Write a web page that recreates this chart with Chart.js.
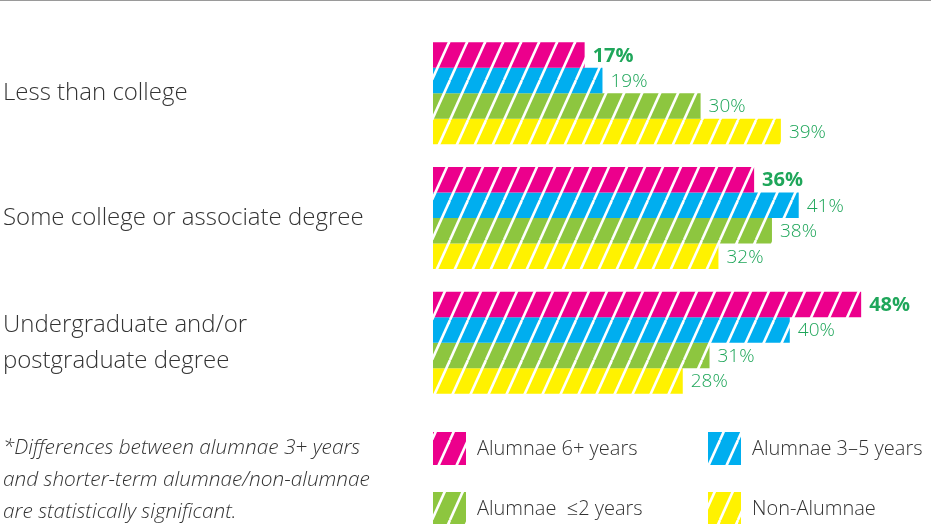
<!DOCTYPE html>
<html><head><meta charset="utf-8">
<script src="https://cdn.jsdelivr.net/npm/chart.js@4/dist/chart.umd.min.js"></script>
<style>
html,body{margin:0;padding:0;background:#fff;}
#wrap{position:relative;width:934px;height:524px;overflow:hidden;}
#topline{position:absolute;left:0;top:0;width:931px;height:1px;background:#9a9a9a;}
#note{position:absolute;left:3px;top:430px;font-family:"Open Sans",sans-serif;font-style:italic;font-weight:300;font-size:20.8px;line-height:32px;color:#333;}
canvas{position:absolute;left:0;top:0;}
</style></head>
<body><div id="wrap"><div id="topline"></div>
<canvas id="c" width="934" height="524"></canvas>
<div id="note">*Differences between alumnae 3+ years<br>and shorter-term alumnae/non-alumnae<br>are statistically significant.</div>
</div>
<script>
const categories = [["Less than college"], ["Some college or associate degree"], ["Undergraduate and/or", "postgraduate degree"]];
const seriesNames = ["Alumnae 6+ years", "Alumnae 3\u20135 years", "Alumnae  \u22642 years", "Non-Alumnae"];
const alumnae6 = [17, 36, 48];
const alumnae35 = [19, 41, 40];
const alumnae2 = [30, 38, 31];
const nonAlumnae = [39, 32, 28];
const seriesColors = ["#ec008c", "#00aeef", "#8dc63f", "#fff200"];
const FONT = '"Open Sans", sans-serif';

function makePattern(color){
  const t = document.createElement('canvas');
  const W = 18, H = 40;
  t.width = W; t.height = H;
  const g = t.getContext('2d');
  g.fillStyle = color; g.fillRect(0,0,W,H);
  g.strokeStyle = '#fff'; g.lineWidth = 2.6;
  for (let k=-1;k<=1;k++){
    g.beginPath(); g.moveTo(k*W, H); g.lineTo(k*W+W, 0); g.stroke();
  }
  return g.createPattern(t,'repeat');
}
const ctx = document.getElementById('c').getContext('2d');
const patterns = seriesColors.map(makePattern);
const seriesData = [alumnae6, alumnae35, alumnae2, nonAlumnae];

const valueLabels = {
  id:'valueLabels',
  afterDatasetsDraw(chart){
    const c = chart.ctx;
    c.save();
    c.fillStyle = '#1fa65a';
    c.textBaseline = 'middle'; c.textAlign = 'left';
    chart.data.datasets.forEach((ds,i)=>{
      const meta = chart.getDatasetMeta(i);
      c.font = (i===0?'bold 20px ':'300 19px ') + FONT;
      meta.data.forEach((el,j)=>{
        c.fillText(ds.data[j] + '%', el.x + 8, el.y + 1);
      });
    });
    c.restore();
  }
};
const legendPlugin = {
  id:'customLegend',
  afterDraw(chart){
    const c = chart.ctx;
    const cols = [433, 708], rows = [432, 492];
    c.save();
    chart.data.datasets.forEach((ds,i)=>{
      const x = cols[i%2], y = rows[Math.floor(i/2)];
      c.fillStyle = ds.backgroundColor;
      c.fillRect(x, y, 33, 33);
      c.fillStyle = '#333';
      c.font = '300 20px ' + FONT;
      c.textBaseline = 'middle'; c.textAlign = 'left';
      c.fillText(ds.label, x + 44, y + 17);
    });
    c.restore();
  }
};

new Chart(ctx, {
  type:'bar',
  data:{
    labels: categories,
    datasets: seriesData.map((d,i)=>({label: seriesNames[i], data: d, backgroundColor: patterns[i], borderWidth:0, barPercentage:1, categoryPercentage:0.818}))
  },
  options:{
    indexAxis:'y',
    responsive:false,
    animation:false,
    layout:{padding:{left:3, right:55, top:31, bottom:119}},
    plugins:{legend:{display:false}, tooltip:{enabled:false}},
    scales:{
      x:{display:false, min:0, max:50},
      y:{
        grid:{display:false}, border:{display:false},
        afterFit(s){ s.width = 430; s.paddingTop = 0; s.paddingBottom = 0; },
        ticks:{crossAlign:'far', color:'#333', padding:0,
          font:{family:FONT, size:24, weight:300, lineHeight:1.5}}
      }
    }
  },
  plugins:[valueLabels, legendPlugin]
});
</script></body></html>
